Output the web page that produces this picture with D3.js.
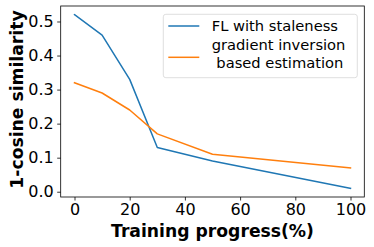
<!DOCTYPE html>
<html>
<head>
<meta charset="utf-8">
<script src="https://cdn.jsdelivr.net/npm/d3@7"></script>
<style>
  html, body { margin: 0; padding: 0; background: #fff; }
  svg { display: block; font-family: "DejaVu Sans", sans-serif; }
</style>
</head>
<body>
<svg id="chart" width="374" height="247"></svg>
<script>
// Data
const progress = [0, 10, 20, 30, 50, 100];
const staleness = [0.52, 0.46, 0.33, 0.13, 0.09, 0.01];
const inversion = [0.32, 0.29, 0.24, 0.17, 0.11, 0.07];
const xTicks = [0, 20, 40, 60, 80, 100];
const yTicks = [0.0, 0.1, 0.2, 0.3, 0.4, 0.5];
const seriesNames = ["FL with staleness", "gradient inversion\n based estimation"];
const seriesColors = ["#1f77b4", "#ff7f0e"];

const svg = d3.select("#chart");
const plot = { left: 60.7, right: 364.3, top: 6, bottom: 197 };

const x = d3.scaleLinear().domain([-5, 105]).range([plot.left, plot.right]);
const y = d3.scaleLinear().domain([-0.0155, 0.5455]).range([plot.bottom, plot.top]);

// Lines
const line = d3.line().x((d, i) => x(progress[i])).y(d => y(d));
[staleness, inversion].forEach((vals, k) => {
  svg.append("path")
    .datum(vals)
    .attr("d", line)
    .attr("fill", "none")
    .attr("stroke", seriesColors[k])
    .attr("stroke-width", 1.5)
    .attr("stroke-linejoin", "round")
    .attr("stroke-linecap", "square");
});

// Axes
const xAxis = d3.axisBottom(x).tickValues(xTicks).tickFormat(d3.format("d")).tickSizeOuter(0).tickSize(3.5).tickPadding(3.5);
const yAxis = d3.axisLeft(y).tickValues(yTicks).tickFormat(d3.format(".1f")).tickSizeOuter(0).tickSize(3.5).tickPadding(3.5);

const gx = svg.append("g").attr("transform", `translate(0,${plot.bottom})`).call(xAxis);
const gy = svg.append("g").attr("transform", `translate(${plot.left},0)`).call(yAxis);
[gx, gy].forEach(g => {
  g.select(".domain").remove();
  g.selectAll(".tick line").attr("stroke", "#000").attr("stroke-width", 0.8);
  g.selectAll(".tick text").attr("fill", "#000").style("font-size", "16px").style("font-family", "DejaVu Sans");
});

// Frame
svg.append("rect")
  .attr("x", plot.left).attr("y", plot.top)
  .attr("width", plot.right - plot.left).attr("height", plot.bottom - plot.top)
  .attr("fill", "none").attr("stroke", "#000").attr("stroke-width", 0.8);

// Axis labels
svg.append("text")
  .attr("x", (plot.left + plot.right) / 2).attr("y", 236.5)
  .attr("text-anchor", "middle")
  .style("font-size", "17.2px").style("font-weight", "bold")
  .text("Training progress(%)");

svg.append("text")
  .attr("transform", `translate(22.5,99.5) rotate(-90)`)
  .attr("text-anchor", "middle")
  .style("font-size", "17.2px").style("font-weight", "bold")
  .text("1-cosine similarity");

// Legend
const lg = svg.append("g");
lg.append("rect")
  .attr("x", 163.3).attr("y", 14.3).attr("width", 194).attr("height", 63.4)
  .attr("rx", 2.5).attr("ry", 2.5)
  .attr("fill", "#fff").attr("fill-opacity", 0.8)
  .attr("stroke", "#d6d6d6").attr("stroke-width", 0.8);

const handleY = [26, 57.3];
const textY = [31, 50];
seriesNames.forEach((name, k) => {
  lg.append("line")
    .attr("x1", 168.3).attr("x2", 199.3)
    .attr("y1", handleY[k]).attr("y2", handleY[k])
    .attr("stroke", seriesColors[k]).attr("stroke-width", 1.5);
  const t = lg.append("text")
    .attr("x", 211.7).attr("y", textY[k])
    .style("font-size", "14.7px")
    .attr("xml:space", "preserve")
    .style("white-space", "pre");
  name.split("\n").forEach((ln, j) => {
    t.append("tspan").attr("x", 211.7).attr("dy", j === 0 ? 0 : 18.2).text(ln);
  });
});
</script>
</body>
</html>
